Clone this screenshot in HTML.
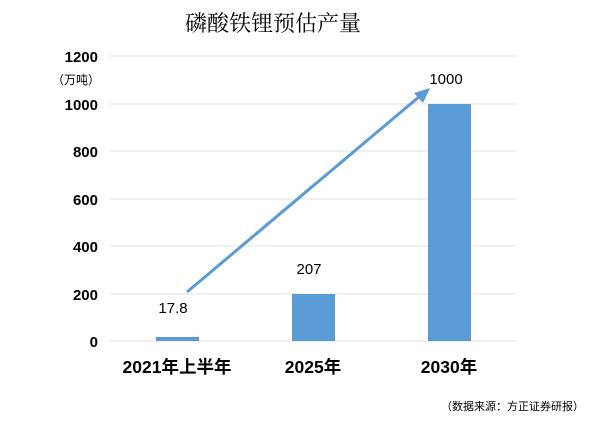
<!DOCTYPE html><html><head><meta charset="utf-8"><style>body{margin:0;background:#fff}</style></head><body>
<svg width="600" height="420" xmlns="http://www.w3.org/2000/svg" font-family="Liberation Sans, Noto Sans CJK SC, sans-serif">
<rect width="600" height="420" fill="#fff"/>
<text x="273" y="31" font-size="22" text-anchor="middle" font-family="Noto Serif CJK SC, serif" fill="#000">磷酸铁锂预估产量</text>
<g stroke="#e0e0e0" stroke-width="1">
<line x1="110" y1="56" x2="516" y2="56"/><line x1="110" y1="104" x2="516" y2="104"/><line x1="110" y1="151" x2="516" y2="151"/><line x1="110" y1="199" x2="516" y2="199"/><line x1="110" y1="246" x2="516" y2="246"/><line x1="110" y1="294" x2="516" y2="294"/><line x1="110" y1="341" x2="516" y2="341"/>
</g>
<g font-size="15" font-weight="bold" text-anchor="end" fill="#000">
<text x="98" y="62">1200</text><text x="98" y="110">1000</text><text x="98" y="157">800</text><text x="98" y="205">600</text><text x="98" y="252">400</text><text x="98" y="300">200</text><text x="98" y="347">0</text>
</g>
<text x="100" y="84" font-size="12" text-anchor="end">（万吨）</text>
<rect x="156" y="337" width="43" height="4" fill="#5b9bd5"/>
<rect x="292" y="294" width="43" height="47" fill="#5b9bd5"/>
<rect x="428" y="104" width="43" height="237" fill="#5b9bd5"/>
<g font-size="15" text-anchor="middle"><text x="173" y="313">17.8</text><text x="309" y="274">207</text><text x="446" y="84">1000</text></g>
<line x1="187" y1="292" x2="420" y2="96" stroke="#5b9bd5" stroke-width="3"/>
<polygon points="430,88 414,93 423,103" fill="#5b9bd5"/>
<g font-size="17.5" font-weight="bold" text-anchor="middle"><text x="177" y="373">2021年上半年</text><text x="313" y="373">2025年</text><text x="449" y="373">2030年</text></g>
<text x="584" y="410" font-size="11" text-anchor="end">（数据来源：方正证券研报）</text>
</svg></body></html>
